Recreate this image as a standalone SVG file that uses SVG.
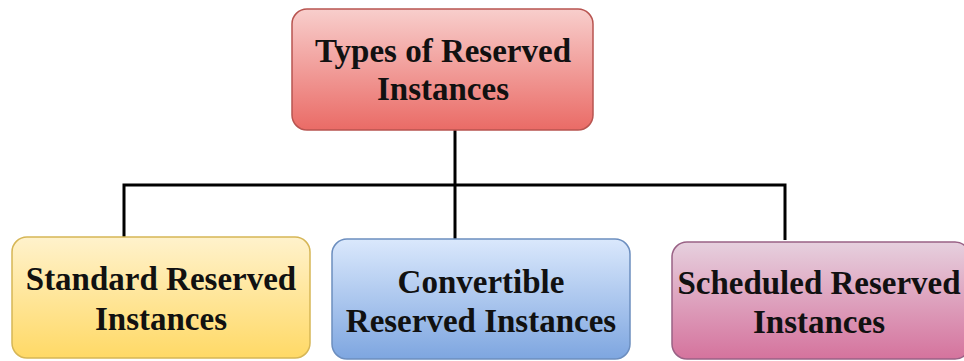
<svg xmlns="http://www.w3.org/2000/svg" width="964" height="361" viewBox="0 0 964 361">
  <defs>
    <linearGradient id="gRed" x1="0" y1="0" x2="0" y2="1">
      <stop offset="0" stop-color="#f8cecc"/>
      <stop offset="1" stop-color="#ea6b66"/>
    </linearGradient>
    <linearGradient id="gYellow" x1="0" y1="0" x2="0" y2="1">
      <stop offset="0" stop-color="#fff2cc"/>
      <stop offset="1" stop-color="#ffd966"/>
    </linearGradient>
    <linearGradient id="gBlue" x1="0" y1="0" x2="0" y2="1">
      <stop offset="0" stop-color="#dae8fc"/>
      <stop offset="1" stop-color="#7ea6e0"/>
    </linearGradient>
    <linearGradient id="gPink" x1="0" y1="0" x2="0" y2="1">
      <stop offset="0" stop-color="#e6d0de"/>
      <stop offset="1" stop-color="#d5739d"/>
    </linearGradient>
    <style>
      .box { stroke-width: 1.5; }
      .lbl { font-family: "Liberation Serif", "Times New Roman", serif; font-weight: bold; font-size: 33px; fill: #111; text-anchor: middle; }
      .wire { fill: none; stroke: #000; stroke-width: 3; }
    </style>
  </defs>

  <rect width="964" height="361" fill="#ffffff"/>

  <g id="connectors">
    <path class="wire" d="M455 130 V185"/>
    <path class="wire" d="M124 238 V185 H785 V240"/>
    <path class="wire" d="M455 185 V239"/>
  </g>

  <g id="types">
    <rect class="box" x="292" y="9" width="301" height="121" rx="15" fill="url(#gRed)" stroke="#b85450"/>
    <text class="lbl" x="443" y="62">Types of Reserved</text>
    <text class="lbl" x="443" y="100">Instances</text>
  </g>

  <g id="standard">
    <rect class="box" x="12" y="237" width="298" height="121" rx="15" fill="url(#gYellow)" stroke="#d6b656"/>
    <text class="lbl" x="161" y="290">Standard Reserved</text>
    <text class="lbl" x="161" y="330">Instances</text>
  </g>

  <g id="convertible">
    <rect class="box" x="332" y="239" width="298" height="120" rx="15" fill="url(#gBlue)" stroke="#6c8ebf"/>
    <text class="lbl" x="481" y="293">Convertible</text>
    <text class="lbl" x="481" y="332">Reserved Instances</text>
  </g>

  <g id="scheduled">
    <rect class="box" x="672" y="242" width="298" height="117" rx="15" fill="url(#gPink)" stroke="#996185"/>
    <text class="lbl" x="819" y="294">Scheduled Reserved</text>
    <text class="lbl" x="819" y="333">Instances</text>
  </g>
</svg>
